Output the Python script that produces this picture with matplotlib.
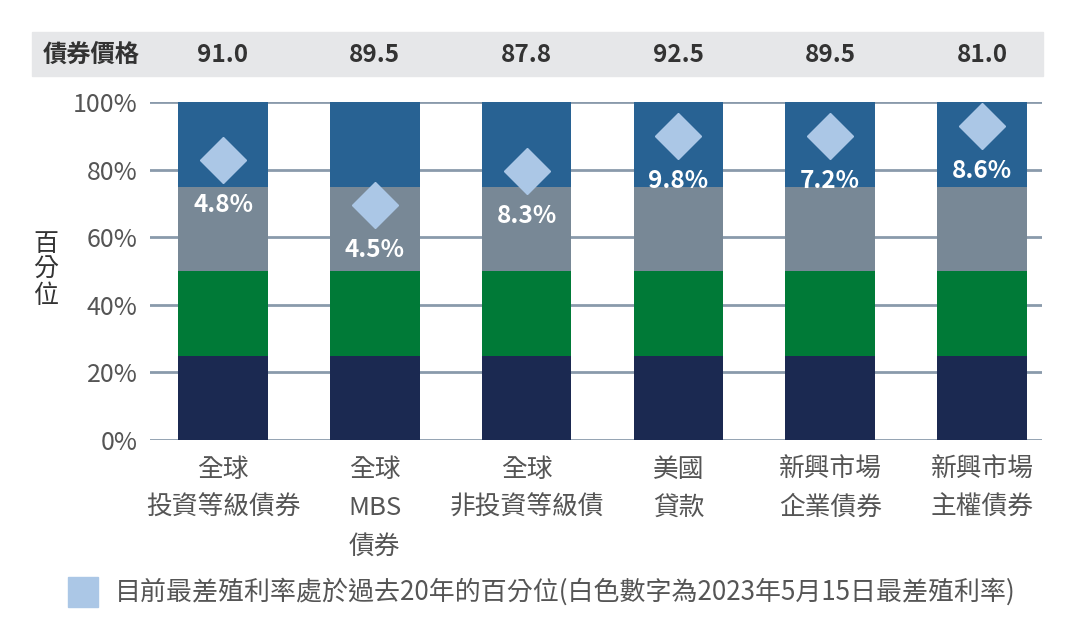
import matplotlib
matplotlib.use("Agg")
import matplotlib.pyplot as plt
import matplotlib.transforms as mtransforms
from matplotlib.patches import Rectangle

plt.rcParams['font.family'] = ['Noto Sans CJK TC', 'DejaVu Sans']

categories = ['全球\n投資等級債券', '全球\nMBS\n債券', '全球\n非投資等級債',
              '美國\n貸款', '新興市場\n企業債券', '新興市場\n主權債券']
prices = ['91.0', '89.5', '87.8', '92.5', '89.5', '81.0']
percentile = [82.8, 69.5, 79.5, 90.0, 90.0, 93.0]
spread_labels = ['4.8%', '4.5%', '8.3%', '9.8%', '7.2%', '8.6%']
quartiles = [25, 25, 25, 25]
quartile_colors = ['#1b2951', '#007a37', '#788896', '#286293']

diamond_color = '#abc7e6'
text_gray = '#555555'
grid_color = '#8a9aab'

fig = plt.figure(figsize=(10.76, 6.42), dpi=100)
ax = fig.add_axes([150 / 1076, (642 - 440) / 642, (1042 - 150) / 1076, 338 / 642])

x = list(range(len(categories)))
for xi in x:
    bottom = 0
    for q, c in zip(quartiles, quartile_colors):
        ax.bar(xi, q, bottom=bottom, width=0.59, color=c, zorder=2)
        bottom += q

ax.plot(x, percentile, linestyle='none', marker='D', markersize=23,
        color=diamond_color, zorder=3)
for xi, p, lab in zip(x, percentile, spread_labels):
    ax.text(xi, p - 13.3, lab, ha='center', va='center', color='white',
            fontsize=17.5, fontweight='bold', zorder=4)

ax.set_ylim(0, 100)
ax.set_xlim(-0.481, 5.395)
ax.set_yticks([0, 20, 40, 60, 80, 100])
ax.set_yticklabels(['0%', '20%', '40%', '60%', '80%', '100%'])
ax.yaxis.grid(True, color=grid_color, linewidth=2, zorder=1)
ax.set_axisbelow(True)
for s in ax.spines.values():
    s.set_visible(False)
ax.tick_params(axis='both', length=0, labelcolor=text_gray)
ax.tick_params(axis='y', pad=9, labelsize=18)
ax.set_xticks(x)
ax.set_xticklabels(categories, linespacing=1.62, fontsize=18.5)
ax.tick_params(axis='x', pad=12)

fig.text(46 / 1076, (642 - 270) / 642, '百\n分\n位', ha='center', va='center',
         fontsize=18, color='#333333', linespacing=1.0)

# header band with bond prices
fig.patches.append(Rectangle((32 / 1076, (642 - 76) / 642), (1043 - 32) / 1076, 44 / 642,
                             transform=fig.transFigure, color='#e6e7e9', zorder=-1))
trans = mtransforms.blended_transform_factory(ax.transData, fig.transFigure)
header_y = (642 - 55) / 642
fig.text(91 / 1076, header_y, '債券價格', ha='center', va='center',
         fontsize=17.5, fontweight='bold', color='#333333')
for xi, pr in zip(x, prices):
    ax.text(xi, header_y, pr, transform=trans, ha='center', va='center',
            fontsize=17.5, fontweight='bold', color='#333333', clip_on=False)

# legend
fig.patches.append(Rectangle((68 / 1076, (642 - 607) / 642), 30 / 1076, 30 / 642,
                             transform=fig.transFigure, color=diamond_color))
fig.text(115 / 1076, (642 - 592) / 642,
         '目前最差殖利率處於過去20年的百分位(白色數字為2023年5月15日最差殖利率)',
         ha='left', va='center', fontsize=18.7, color=text_gray)

fig.savefig('out.png', dpi=100)
